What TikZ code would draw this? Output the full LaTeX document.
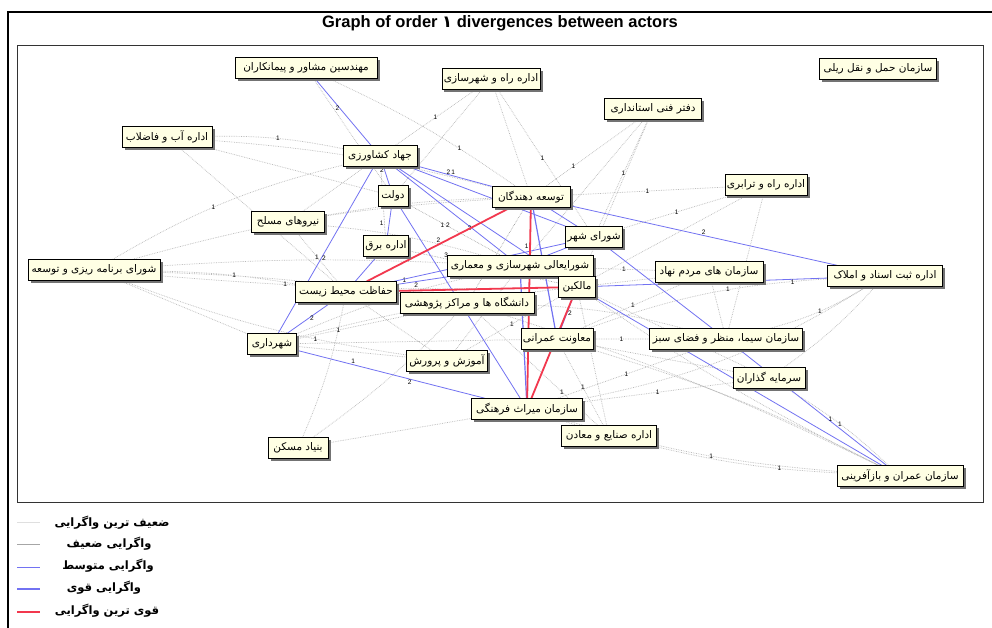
\documentclass[tikz,border=0pt]{standalone}
\usepackage{fontspec}
\setmainfont{Liberation Sans}
\newfontfamily\persianfont[Script=Arabic]{DejaVu Sans}
\TeXXeTstate=1
\usetikzlibrary{shadows}
\definecolor{boxfill}{HTML}{FFFFE4}
\definecolor{midblue}{HTML}{7272F2}
\definecolor{hotred}{HTML}{F2384E}
\newcommand{\rtl}[1]{\beginR #1\endR}
\pgfdeclarelayer{paper}
\pgfdeclarelayer{links}
\pgfsetlayers{paper,links,main}
\tikzstyle{actor} = [rectangle, draw, fill=boxfill, minimum height=21pt, inner xsep=2pt, inner ysep=2pt,
  font=\persianfont\fontsize{10.5}{11}\selectfont,
  drop shadow={shadow xshift=2.5pt, shadow yshift=-2.5pt, fill=black!55, opacity=1}]
\tikzstyle{weakest} = [gray!55, densely dotted, line width=0.7pt]
\tikzstyle{weak} = [gray!85, densely dotted, line width=0.6pt]
\tikzstyle{medium} = [midblue, line width=0.8pt]
\tikzstyle{strong} = [midblue, line width=1.2pt]
\tikzstyle{strongest} = [hotred, line width=1.8pt]
\tikzstyle{wt} = [font=\fontsize{6.5}{7}\selectfont, text=black, inner sep=0.6pt]
\tikzstyle{legtext} = [font=\persianfont\bfseries\fontsize{11.5}{12}\selectfont]

\begin{document}
\begin{tikzpicture}[x=1pt, y=-1pt]
    \useasboundingbox (0,0) rectangle (992,628);
    \begin{pgfonlayer}{paper}
      \fill[white] (0,0) rectangle (992,628);
    \end{pgfonlayer}
    \draw[line width=1.3pt] (8,628) -- (8,12) -- (992,12);
    \draw[black!80] (17,45) rectangle (983,502);
    \node[font=\bfseries\fontsize{16.5}{17}\selectfont] (title) at (500,23) {Graph of order {\persianfont ۱} divergences between actors};

    % actors
    \node[actor, minimum width=142pt] (eng) at (306,68) {\rtl{مهندسین مشاور و پیمانکاران}};
    \node[actor, minimum width=97pt] (roadurb) at (491,79) {\rtl{اداره راه و شهرسازی}};
    \node[actor, minimum width=117pt] (rail) at (878,69) {\rtl{سازمان حمل و نقل ریلی}};
    \node[actor, minimum width=97pt] (techoff) at (653,109) {\rtl{دفتر فنی استانداری}};
    \node[actor, minimum width=90pt] (water) at (167,137) {\rtl{اداره آب و فاضلاب}};
    \node[actor, minimum width=74pt] (agri) at (380,156) {\rtl{جهاد کشاورزی}};
    \node[actor, minimum width=30pt] (state) at (393,196) {\rtl{دولت}};
    \node[actor, minimum width=73pt] (army) at (288,222) {\rtl{نیروهای مسلح}};
    \node[actor, minimum width=45pt] (power) at (386,246) {\rtl{اداره برق}};
    \node[actor, minimum width=132pt] (plan) at (94,270) {\rtl{شورای برنامه ریزی و توسعه}};
    \node[actor, minimum width=78pt] (dev) at (531,197) {\rtl{توسعه دهندگان}};
    \node[actor, minimum width=57pt] (city) at (594,237) {\rtl{شورای شهر}};
    \node[actor, minimum width=82pt] (traffic) at (766,185) {\rtl{اداره راه و ترابری}};
    \node[actor, minimum width=146pt] (council) at (520,266) {\rtl{شورایعالی شهرسازی و معماری}};
    \node[actor, minimum width=101pt] (env) at (346,292) {\rtl{حفاظت محیط زیست}};
    \node[actor, minimum width=134pt] (univ) at (467,303) {\rtl{دانشگاه ها و مراکز پژوهشی}};
    \node[actor, minimum width=37pt] (owners) at (577,287) {\rtl{مالکین}};
    \node[actor, minimum width=108pt] (ngo) at (709,272) {\rtl{سازمان های مردم نهاد}};
    \node[actor, minimum width=115pt] (registry) at (885,276) {\rtl{اداره ثبت اسناد و املاک}};
    \node[actor, minimum width=71pt] (civil) at (557,339) {\rtl{معاونت عمرانی}};
    \node[actor, minimum width=153pt] (green) at (726,339) {\rtl{سازمان سیما، منظر و فضای سبز}};
    \node[actor, minimum width=49pt] (muni) at (272,344) {\rtl{شهرداری}};
    \node[actor, minimum width=81pt] (edu) at (447,361) {\rtl{آموزش و پرورش}};
    \node[actor, minimum width=72pt] (invest) at (769,378) {\rtl{سرمایه گذاران}};
    \node[actor, minimum width=111pt] (heritage) at (527,409) {\rtl{سازمان میراث فرهنگی}};
    \node[actor, minimum width=95pt] (industry) at (609,436) {\rtl{اداره صنایع و معادن}};
    \node[actor, minimum width=60pt] (housing) at (298,448) {\rtl{بنیاد مسکن}};
    \node[actor, minimum width=126pt] (regen) at (900,476) {\rtl{سازمان عمران و بازآفرینی}};

    \begin{pgfonlayer}{links}
    % weakest ties
    \draw[weakest] (plan) to[bend left=4] node[wt, pos=0.55]{1} (env) (plan) to[bend left=3] (univ)
      (plan) to[bend left=3] (council) (plan) to[bend right=3] node[wt, pos=0.3]{1} (owners)
      (plan) to[bend left=8] node[wt, pos=0.45]{1} (agri) (plan) -- (muni) (plan) to[bend left=6] (dev)
      (plan) to[bend right=6] node[wt, pos=0.7]{1} (edu);
    \draw[weakest] (water) to[bend left=6] node[wt]{1} (agri) (water) -- (state) (water) to[bend left=5] (dev)
      (water) -- (env) (army) -- (agri) (army) -- node[wt]{1} (env) (army) to[bend left=5] (council)
      (army) to[bend left=4] (dev);
    \draw[weakest] (roadurb) -- node[wt]{1} (agri) (roadurb) -- (dev) (roadurb) -- node[wt]{1} (city)
      (roadurb) -- (state) (techoff) -- node[wt, pos=0.7]{1} (dev) (techoff) -- node[wt]{1} (city)
      (techoff) -- (owners) (techoff) -- (council) (eng) -- (state) (eng) to[bend left=5] node[wt, pos=0.7]{1} (dev);
    \draw[weakest] (traffic) -- node[wt]{1} (dev) (traffic) -- (owners) (traffic) -- (green)
      (traffic) -- node[wt]{1} (city) (ngo) -- node[wt]{1} (council) (ngo) -- (owners) (ngo) -- (green)
      (ngo) -- node[wt]{1} (civil);
    \draw[weakest] (registry) to[bend left=8] node[wt]{1} (green) (registry) to[bend left=6] (invest)
      (registry) to[bend right=8] node[wt, pos=0.4]{1} (civil) (registry) to[bend left=10] (heritage);
    \draw[weakest] (regen) to[bend left=6] node[wt, pos=0.45]{1} (heritage) (regen) to[bend right=5] (civil)
      (regen) to[bend left=4] (owners) (regen) to[bend left=5] node[wt, pos=0.3]{1} (industry)
      (regen) to[bend right=4] (univ) (regen) to[bend right=6] node[wt]{1} (invest);
    \draw[weakest] (invest) -- node[wt]{1} (heritage) (invest) -- (civil) (invest) -- node[wt]{1} (owners)
      (green) -- node[wt]{1} (heritage) (green) -- node[wt]{1} (civil) (green) to[bend right=6] (univ)
      (industry) -- (heritage) (industry) -- node[wt]{1} (civil) (industry) -- (owners) (industry) -- node[wt, pos=0.3]{1} (univ);
    \draw[weakest] (housing) to[bend right=6] (env) (housing) to[bend right=5] (univ)
      (housing) -- (heritage) (edu) -- (env) (edu) -- (muni) (edu) -- node[wt]{1} (council)
      (edu) -- node[wt]{1} (owners) (muni) -- node[wt, pos=0.35]{1} (univ) (muni) to[bend left=5] (council)
      (muni) to[bend left=4] node[wt, pos=0.55]{1} (owners) (muni) -- (civil);
    % weak ties
    \draw[weak] (state) -- node[wt, pos=0.4]{1 2} (council) (power) -- node[wt, pos=0.25, above]{3} (owners)
      (agri) -- node[wt, pos=0.82, left]{1} (power) (dev) -- (univ);

    % medium and strong ties
    \draw[medium] (eng) -- node[wt, left, pos=0.45]{2} (agri);
    \draw[medium] (agri) -- node[wt, right, pos=0.55]{2} (muni);
    \draw[medium] (agri) -- node[wt, left, pos=0.2]{2} (state);
    \draw[medium] (agri) -- node[wt, above, pos=0.45]{2\,1} (dev);
    \draw[medium] (agri) -- (city);
    \draw[medium] (agri) -- node[wt, left, pos=0.7]{2} (council);
    \draw[medium] (agri) -- (owners);
    \draw[medium] (state) -- (power);
    \draw[medium] (state) -- (heritage);
    \draw[medium] (power) -- (env);
    \draw[medium] (env) -- node[wt, above, pos=0.15]{1} (council);
    \draw[medium] (env) -- (city);
    \draw[medium] (env) -- node[wt, right]{2} (muni);
    \draw[medium] (dev) -- node[wt, above, pos=0.5]{2} (registry);
    \draw[medium] (dev) -- (city);
    \draw[strong] (dev) -- (civil);
    \draw[medium] (owners) -- node[wt, below, pos=0.85]{1} (registry);
    \draw[medium] (owners) -- (regen);
    \draw[medium] (owners) -- node[wt, right]{2} (civil);
    \draw[medium] (city) -- (green);
    \draw[medium] (city) -- (council);
    \draw[medium] (green) -- node[wt, right, pos=0.6]{1} (regen);
    \draw[medium] (muni) -- node[wt, above, pos=0.3]{1} node[wt, below, pos=0.6]{2} (heritage);
    \draw[strong] (council) -- (heritage);
    % strongest ties
    \draw[strongest] (env) -- node[wt, above, pos=0.5]{2} (dev);
    \draw[strongest] (env) -- node[wt, above=1pt, pos=0.12]{2} (owners);
    \draw[strongest] (dev) -- node[wt, left, pos=0.2]{1} (heritage);
    \draw[strongest] (owners) -- (heritage);
    \end{pgfonlayer}

    % legend
    \draw[gray!25, line width=0.8pt] (17,522) -- (40,522);
    \draw[gray!70, line width=0.6pt] (17,544) -- (40,544);
    \draw[midblue, line width=0.8pt] (17,567) -- (40,567);
    \draw[midblue, line width=1.4pt] (17,589) -- (40,589);
    \draw[hotred, line width=1.4pt] (17,612) -- (40,612);
    \node[legtext] (leg1) at (112,523) {\rtl{ضعیف ترین واگرایی}};
    \node[legtext] (leg2) at (109,544) {\rtl{واگرایی  ضعیف}};
    \node[legtext] (leg3) at (108,566) {\rtl{واگرایی  متوسط}};
    \node[legtext] (leg4) at (104,588) {\rtl{واگرایی قوی}};
    \node[legtext] (leg5) at (107,611) {\rtl{قوی ترین واگرایی}};
  \end{tikzpicture}
\end{document}
